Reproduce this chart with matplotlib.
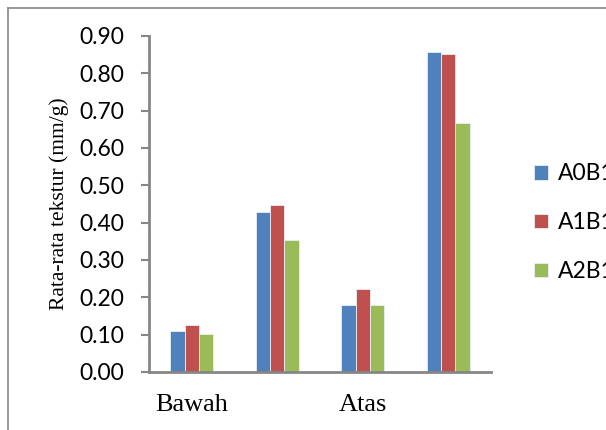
import matplotlib
matplotlib.use("Agg")
import matplotlib.pyplot as plt
from matplotlib.lines import Line2D
import numpy as np

# Mean texture per position and treatment
tick_labels = ["Bawah", "", "Atas", ""]
series_names = ["A0B1", "A1B1", "A2B1"]
a0b1 = [0.111, 0.428, 0.179, 0.856]
a1b1 = [0.125, 0.447, 0.223, 0.853]
a2b1 = [0.101, 0.353, 0.179, 0.668]
colors = ["#4F81BD", "#C0504D", "#9BBB59"]
y_ticks = [0.0, 0.1, 0.2, 0.3, 0.4, 0.5, 0.6, 0.7, 0.8, 0.9]

W, H = 606, 430
fig = plt.figure(figsize=(W / 100, H / 100), dpi=100)
ax = fig.add_axes([149 / W, 1 - 372 / H, (491 - 149) / W, (372 - 36) / H])

x = np.arange(len(tick_labels))
bw = 1 / 6
for i, (vals, name, c) in enumerate(zip([a0b1, a1b1, a2b1], series_names, colors)):
    ax.bar(x + (i - 1) * bw, vals, width=bw, color=c, label=name,
           edgecolor="#e8eef6", linewidth=0.6, zorder=2)

ax.set_xlim(-0.5, len(tick_labels) - 0.5)
ax.set_ylim(0, 0.9)
ax.set_yticks(y_ticks)
ax.set_yticklabels([f"{v:.2f}" for v in y_ticks], family="Lato", fontsize=16.5)
ax.set_xticks(x)
ax.set_xticklabels(tick_labels, family="Liberation Serif", fontsize=19)
ax.tick_params(axis="x", length=0, pad=16)
ax.tick_params(axis="y", length=6, width=1.5, color="#868686", pad=12)

for s in ["top", "right"]:
    ax.spines[s].set_visible(False)
for s in ["left", "bottom"]:
    ax.spines[s].set_color("#868686")
    ax.spines[s].set_linewidth(2)

ax.set_ylabel("Rata-rata tekstur (mm/g)", family="Liberation Serif",
              fontsize=15.5, labelpad=2)
ax.yaxis.set_label_coords(-0.235, 0.5)

leg = fig.legend(loc="upper left", bbox_to_anchor=(525 / W, 1 - 154 / H),
                 frameon=False, prop={"family": "Lato", "size": 16.5},
                 handlelength=0.62, handleheight=0.62, handletextpad=0.4,
                 labelspacing=1.22, borderaxespad=0)

# Surrounding chart frame: left and top edges
frame_kw = dict(transform=fig.transFigure, color="#868686", linewidth=1.2)
fig.lines.append(Line2D([7.5 / W, 7.5 / W], [0, 1 - 7.5 / H], **frame_kw))
fig.lines.append(Line2D([7.5 / W, 1], [1 - 7.5 / H, 1 - 7.5 / H], **frame_kw))

fig.savefig("out.png", dpi=100)
